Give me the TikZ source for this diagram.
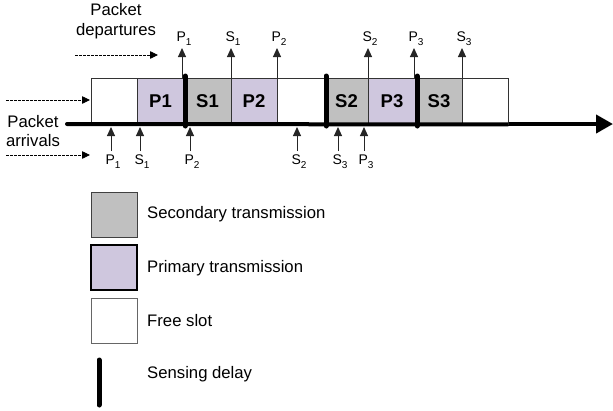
\documentclass[tikz,border=0pt]{standalone}
\usepackage{fontspec}
\setmainfont{Liberation Sans}
\usetikzlibrary{arrows.meta}
\definecolor{secgray}{RGB}{192,192,192}
\definecolor{primlav}{RGB}{207,199,222}
\newcommand\subs[1]{\raisebox{-0.45ex}{\fontsize{10}{10}\selectfont #1}}
\tikzset{
  slotbox/.style={draw=black!80, line width=0.9pt, minimum width=#1, minimum height=46pt, inner sep=0pt, anchor=center,
    font=\fontsize{18.5}{18.5}\selectfont\bfseries},
  freebox/.style={slotbox=#1, fill=white},
  secbox/.style={slotbox=#1, fill=secgray},
  primbox/.style={slotbox=#1, fill=primlav},
  sense/.style={line width=5pt, line cap=round, black},
  evarrow/.style={line width=1pt, black!85, -{Triangle[length=9pt,width=8pt]}},
  dasharrow/.style={line width=0.8pt, dash pattern=on 2.5pt off 1.5pt, -{Triangle[length=8pt,width=7.5pt]}},
  lbl/.style={font=\fontsize{14}{14}\selectfont, inner sep=0pt},
  txt/.style={font=\fontsize{16.7}{19.5}\selectfont, inner sep=0pt, align=center},
}
\begin{document}
\begin{tikzpicture}[x=1pt,y=-1pt]
\useasboundingbox (0,0) rectangle (613,410);
% timeline axis
\coordinate (axs) at (67,124);
\coordinate (axe) at (613,124);
\draw[line width=4pt, line cap=round, -{Triangle[length=17pt,width=18pt]}] (axs) -- (axe);
% slots
\node[freebox=46pt] (f1) at (114,101) {};
\node[primbox=47pt] (p1) at (160.5,101) {P1};
\node[secbox=47pt] (s1) at (207.5,101) {S1};
\node[primbox=46pt] (p2) at (254,101) {P2};
\node[freebox=48pt] (f2) at (301,101) {};
\node[secbox=43pt] (s2) at (346.5,101) {S2};
\node[primbox=48pt] (p3) at (392,101) {P3};
\node[secbox=46pt] (s3) at (439,101) {S3};
\node[freebox=46pt] (f3) at (485,101) {};
\draw[line width=4pt] (axs) -- (f3.south east);
% sensing delays
\draw[sense] (185,76) -- (185,126);
\draw[sense] (326,76) -- (326,126);
\draw[sense] (417,76) -- (417,126);
% departures
\foreach \x/\n/\l/\s in {182/dp1/P/1, 231/ds1/S/1, 277/dp2/P/2, 368/ds2/S/2, 414/dp3/P/3, 462/ds3/S/3}{
  \coordinate (\n b) at (\x,78);
  \coordinate (\n t) at (\x,48);
  \draw[evarrow] (\n b) -- (\n t);
  \node[lbl, anchor=south] (\n lab) at (\x+2,45.5) {\l\subs{\s}};
}
% arrivals
\foreach \x/\n/\l/\s in {111/ap1/P/1, 140/as1/S/1, 190/ap2/P/2, 297/as2/S/2, 338/as3/S/3, 364/ap3/P/3}{
  \coordinate (\n b) at (\x,151);
  \coordinate (\n t) at (\x,127);
  \draw[evarrow] (\n b) -- (\n t);
  \node[lbl, anchor=north] (\n lab) at (\x+2,155) {\l\subs{\s}};
}
% side labels
\node[txt] (dep) at (116,21) {Packet\\departures};
\coordinate (d1s) at (75,55); \coordinate (d1e) at (158,55);
\draw[dasharrow] (d1s) -- (d1e);
\coordinate (d2s) at (6,100); \coordinate (d2e) at (90,100);
\draw[dasharrow] (d2s) -- (d2e);
\node[txt] (arr) at (33,131) {Packet\\arrivals};
\coordinate (d3s) at (6,155); \coordinate (d3e) at (90,155);
\draw[dasharrow] (d3s) -- (d3e);
% legend
\node[secbox=46pt, minimum height=45pt, draw=black!75] (lsec) at (114,214.5) {};
\node[primbox=46pt, minimum height=45pt, draw=black, line width=1.8pt] (lprim) at (114,267.5) {};
\node[freebox=46pt, minimum height=45pt, draw=black!60] (lfree) at (114,320.5) {};
\coordinate (lss) at (99,360); \coordinate (lse) at (99,405);
\draw[sense] (lss) -- (lse);
\node[txt, anchor=west] (tsec) at (147,214) {Secondary transmission};
\node[txt, anchor=west] (tprim) at (147,268) {Primary transmission};
\node[txt, anchor=west] (tfree) at (147,321) {Free slot};
\node[txt, anchor=west] (tsense) at (147,374) {Sensing delay};
\end{tikzpicture}
\end{document}
